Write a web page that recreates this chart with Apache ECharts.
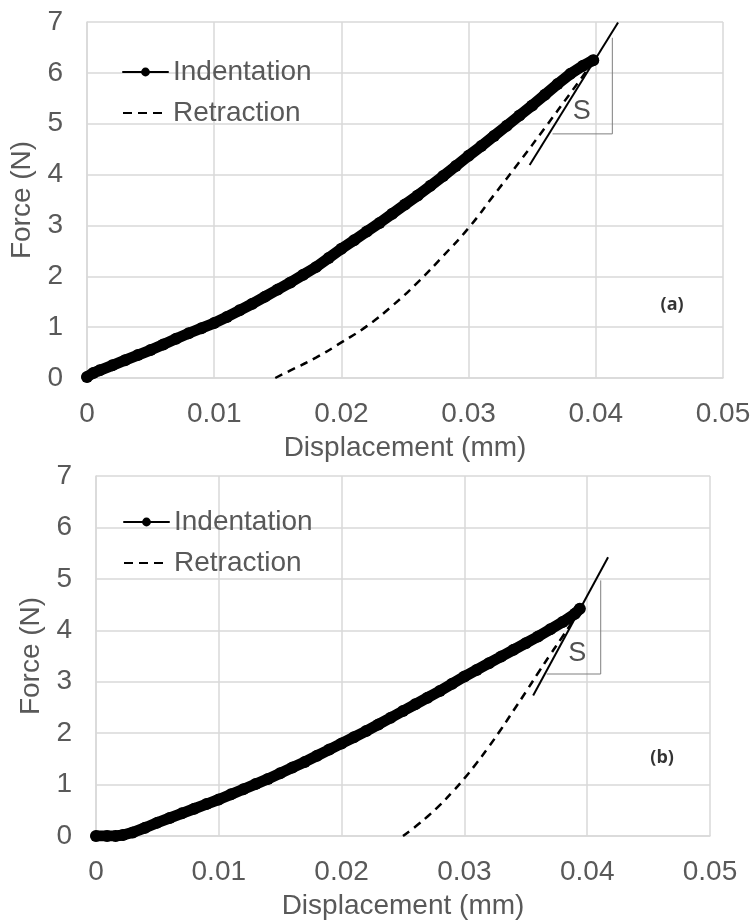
<!DOCTYPE html>
<html>
<head>
<meta charset="utf-8">
<title>Force - Displacement</title>
<script src="https://cdn.jsdelivr.net/npm/echarts@6/dist/echarts.min.js"></script>
<style>
	html, body { margin: 0; padding: 0; background: #fff; }
	#chart { width: 754px; height: 921px; }
</style>
</head>
<body>
<div id="chart"></div>
<script>
/*
 * Data: displacement (mm) / force (N)
 */
// (a) indentation
var dispA = [0, 0.0005, 0.001, 0.002, 0.003, 0.004, 0.005, 0.006, 0.007, 0.008, 0.009, 0.010,
	0.011, 0.012, 0.013, 0.014, 0.015, 0.016, 0.017, 0.018, 0.019, 0.020,
	0.021, 0.022, 0.023, 0.024, 0.025, 0.026, 0.027, 0.028, 0.029, 0.030,
	0.031, 0.032, 0.033, 0.034, 0.035, 0.036, 0.037, 0.038, 0.039, 0.0398];
var forceA = [0.02, 0.1, 0.15, 0.25, 0.35, 0.45, 0.55, 0.66, 0.77, 0.88, 0.98, 1.08,
	1.2, 1.33, 1.46, 1.6, 1.74, 1.88, 2.03, 2.18, 2.36, 2.54,
	2.71, 2.88, 3.05, 3.23, 3.41, 3.59, 3.78, 3.97, 4.17, 4.37,
	4.56, 4.76, 4.96, 5.16, 5.36, 5.57, 5.78, 5.98, 6.14, 6.25];
// (a) retraction
var retDispA = [0.0148, 0.016, 0.018, 0.020, 0.022, 0.024, 0.026, 0.028, 0.030, 0.032, 0.034, 0.036, 0.038, 0.0398];
var retForceA = [0, 0.15, 0.4, 0.7, 1.02, 1.42, 1.88, 2.4, 2.95, 3.6, 4.25, 4.92, 5.6, 6.22];
// (a) tangent line + slope triangle
var tanDispA = [0.0348, 0.04175];
var tanForceA = [4.19, 6.99];
var triDispA = [0.0366, 0.0413, 0.0413];
var triForceA = [4.80, 4.80, 6.69];
var sLabelA = [0.0389, 5.24];
var tagA = [0.0460, 1.44];

// (b) indentation
var dispB = [0, 0.0009, 0.0016, 0.0022, 0.003, 0.004, 0.005, 0.006, 0.007, 0.008, 0.009, 0.010,
	0.011, 0.012, 0.013, 0.014, 0.015, 0.016, 0.017, 0.018, 0.019, 0.020,
	0.021, 0.022, 0.023, 0.024, 0.025, 0.026, 0.027, 0.028, 0.029, 0.030,
	0.031, 0.032, 0.033, 0.034, 0.035, 0.036, 0.037, 0.038, 0.039, 0.0394];
var forceB = [0, 0, 0, 0.02, 0.07, 0.16, 0.26, 0.35, 0.44, 0.53, 0.62, 0.71,
	0.81, 0.91, 1.01, 1.11, 1.22, 1.33, 1.44, 1.56, 1.68, 1.8,
	1.92, 2.04, 2.17, 2.3, 2.43, 2.56, 2.69, 2.82, 2.96, 3.1,
	3.23, 3.36, 3.49, 3.62, 3.75, 3.88, 4.02, 4.16, 4.32, 4.42];
// (b) retraction
var retDispB = [0.025, 0.026, 0.027, 0.028, 0.029, 0.030, 0.031, 0.032, 0.033, 0.034, 0.035, 0.036, 0.037, 0.038, 0.039, 0.0394];
var retForceB = [0, 0.18, 0.38, 0.6, 0.85, 1.12, 1.42, 1.74, 2.08, 2.44, 2.8, 3.17, 3.53, 3.88, 4.25, 4.42];
// (b) tangent line + slope triangle
var tanDispB = [0.0356, 0.0417];
var tanForceB = [2.73, 5.42];
var triDispB = [0.0367, 0.0411, 0.0411];
var triForceB = [3.15, 3.15, 4.97];
var sLabelB = [0.0392, 3.54];
var tagB = [0.0461, 1.51];

// axis ticks
var xTicks = { min: 0, max: 0.05, interval: 0.01 };
var yTicks = { min: 0, max: 7, interval: 1 };

/*
 * helpers
 */
var FONT = 'Liberation Sans, Arial, sans-serif';
var GREY = '#595959';

function zipXY(xs, ys) {
	var out = [];
	for (var i = 0; i < xs.length; i++) {
		out.push([xs[i], ys[i]]);
	}
	return out;
}

function makeXAxis(idx) {
	return {
		type: 'value', gridIndex: idx,
		min: xTicks.min, max: xTicks.max, interval: xTicks.interval,
		name: 'Displacement (mm)', nameLocation: 'middle', nameGap: 56,
		nameTextStyle: { fontFamily: FONT, fontSize: 28, color: GREY },
		axisLine: { lineStyle: { color: '#d9d9d9', width: 1.5 } },
		axisTick: { show: false },
		axisLabel: { fontFamily: FONT, fontSize: 28, color: GREY, margin: 22 },
		splitLine: { show: true, lineStyle: { color: '#d9d9d9', width: 1.5 } }
	};
}

function makeYAxis(idx) {
	return {
		type: 'value', gridIndex: idx,
		min: yTicks.min, max: yTicks.max, interval: yTicks.interval,
		name: 'Force (N)', nameLocation: 'middle', nameGap: 50, nameRotate: 90,
		nameTextStyle: { fontFamily: FONT, fontSize: 28, color: GREY },
		axisLine: { show: true, lineStyle: { color: '#d9d9d9', width: 1.5 } },
		axisTick: { show: false },
		axisLabel: { fontFamily: FONT, fontSize: 28, color: GREY, margin: 24 },
		splitLine: { show: true, lineStyle: { color: '#d9d9d9', width: 1.5 } }
	};
}

function makeSeries(idx, ind, ret, tan, tri, sPos, tag, tagText) {
	return [
		{
			name: 'Retraction', type: 'line', xAxisIndex: idx, yAxisIndex: idx,
			data: ret, showSymbol: false, symbol: 'none', smooth: true,
			lineStyle: { color: '#000', width: 2.5, type: [8, 6] }
		},
		{
			name: 'Indentation', type: 'line', xAxisIndex: idx, yAxisIndex: idx,
			data: ind, symbol: 'circle', symbolSize: 12,
			itemStyle: { color: '#000' },
			lineStyle: { color: '#000', width: 11, cap: 'round', join: 'round' }
		},
		{
			name: 'tangent', type: 'line', xAxisIndex: idx, yAxisIndex: idx,
			data: tan, symbol: 'none', lineStyle: { color: '#000', width: 2 }, z: 3
		},
		{
			name: 'triangle', type: 'line', xAxisIndex: idx, yAxisIndex: idx,
			data: tri, symbol: 'none', lineStyle: { color: '#7f7f7f', width: 1 }, z: 1
		},
		{
			name: 'labels', type: 'scatter', xAxisIndex: idx, yAxisIndex: idx,
			symbolSize: 0,
			data: [
				{ value: sPos, label: { show: true, formatter: 'S', fontFamily: FONT, fontSize: 27, color: '#262626' } },
				{ value: tag, label: { show: true, formatter: tagText, fontFamily: 'Open Sans, sans-serif', fontWeight: 'bold', fontSize: 18, color: '#000' } }
			],
			label: { position: 'inside' }
		}
	];
}

function makeLegend(left, top) {
	return {
		orient: 'vertical', left: left, top: top,
		itemWidth: 45, itemHeight: 11, itemGap: 13,
		textStyle: { fontFamily: FONT, fontSize: 28, color: GREY, padding: [0, 0, 0, 0] },
		lineStyle: { width: 2 },
		data: [
			{ name: 'Indentation' },
			{ name: 'Retraction', itemStyle: { opacity: 0 }, lineStyle: { type: [9, 6], width: 2 } }
		]
	};
}

var chart = echarts.init(document.getElementById('chart'), null, { renderer: 'canvas' });
var option = {
	animation: false,
	backgroundColor: '#fff',
	grid: [
		{ left: 87, top: 22, width: 636, height: 356 },
		{ left: 96, top: 476, width: 614, height: 362 }
	],
	legend: [makeLegend(117, 53), makeLegend(118, 503)],
	xAxis: [makeXAxis(0), makeXAxis(1)],
	yAxis: [makeYAxis(0), makeYAxis(1)],
	series: [].concat(
		makeSeries(0, zipXY(dispA, forceA), zipXY(retDispA, retForceA), zipXY(tanDispA, tanForceA),
			zipXY(triDispA, triForceA), sLabelA, tagA, '(a)'),
		makeSeries(1, zipXY(dispB, forceB), zipXY(retDispB, retForceB), zipXY(tanDispB, tanForceB),
			zipXY(triDispB, triForceB), sLabelB, tagB, '(b)')
	)
};
chart.setOption(option);
</script>
</body>
</html>
